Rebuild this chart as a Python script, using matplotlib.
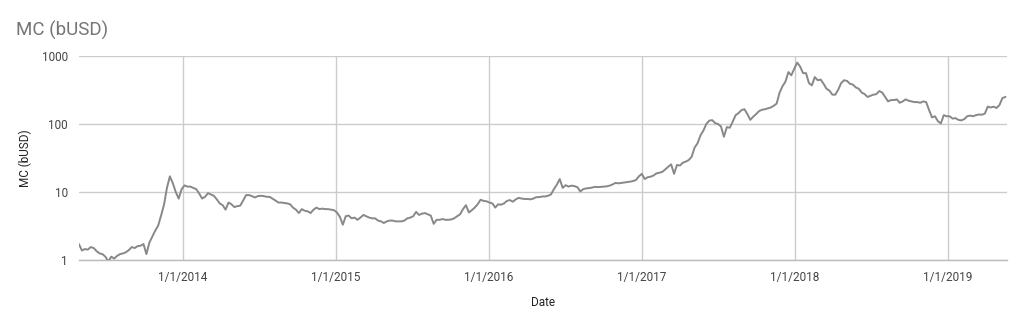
import numpy as np
import pandas as pd
import matplotlib
matplotlib.use("Agg")
import matplotlib.pyplot as plt
import matplotlib.dates as mdates
from matplotlib.ticker import FixedLocator, FixedFormatter, NullLocator

plt.rcParams['font.family'] = ['Roboto', 'DejaVu Sans']

# weekly market cap (bUSD), Sundays from 2013-04-28
mc_2013 = [1.7, 1.38, 1.45, 1.42, 1.55, 1.50, 1.35, 1.25, 1.22, 1.12,
           0.95, 1.12, 1.05, 1.15, 1.22, 1.25, 1.30, 1.40, 1.55, 1.50,
           1.60, 1.62, 1.72, 1.22, 1.80, 2.2, 2.7, 3.2, 4.5, 6.5,
           11.5, 17.0, 13.5, 10.0, 8.0, 11.0]
mc_2014 = [12.5, 12.0, 12.0, 11.5, 11.0, 9.5, 8.0, 8.5, 9.6, 9.2,
           8.8, 7.8, 6.8, 6.4, 5.5, 7.0, 6.6, 6.0, 6.2, 6.3,
           7.5, 9.0, 9.0, 8.7, 8.3, 8.7, 8.8, 8.7, 8.5, 8.5,
           8.0, 7.5, 7.0, 7.0, 6.9, 6.8, 6.6, 5.9, 5.5, 4.9,
           5.6, 5.3, 5.2, 4.9, 5.5, 5.9, 5.6, 5.7, 5.6, 5.6,
           5.5, 5.4]
mc_2015 = [5.0, 4.3, 3.3, 4.4, 4.5, 4.1, 4.2, 3.9, 4.2, 4.6,
           4.4, 4.2, 4.1, 4.1, 3.8, 3.7, 3.5, 3.7, 3.8, 3.8,
           3.7, 3.7, 3.7, 3.8, 4.1, 4.2, 4.4, 5.1, 4.6, 4.8,
           4.9, 4.7, 4.5, 3.4, 3.9, 3.9, 4.0, 3.9, 3.9, 3.95,
           4.1, 4.4, 4.7, 5.6, 6.4, 5.0, 5.4, 5.9, 6.6, 7.7,
           7.4, 7.3]
mc_2016 = [7.0, 6.8, 5.9, 6.6, 6.5, 6.8, 7.4, 7.6, 7.2, 7.8,
           8.2, 8.0, 7.9, 7.9, 7.8, 8.0, 8.4, 8.4, 8.6, 8.6,
           8.8, 9.2, 11.0, 12.8, 15.5, 11.5, 12.6, 12.0, 12.4, 12.2,
           11.8, 10.2, 11.0, 11.3, 11.4, 11.6, 11.9, 11.8, 11.9, 12.0,
           12.1, 12.4, 12.9, 13.6, 13.4, 13.6, 13.8, 14.0, 14.2, 14.5,
           15.0, 17.0]
mc_2017 = [18.5, 15.5, 16.5, 16.8, 17.5, 18.8, 19.2, 19.8, 21.5, 23.5,
           25.5, 18.5, 25.0, 24.5, 27.0, 28.0, 29.5, 33.0, 45, 52,
           68, 80, 100, 112, 114, 103, 100, 92, 65, 90,
           88, 108, 135, 145, 160, 165, 140, 115, 128, 140,
           155, 162, 165, 170, 175, 185, 200, 290, 360, 420,
           580, 520, 650]
mc_2018 = [800, 700, 560, 560, 400, 370, 490, 440, 450, 390,
           330, 310, 270, 270, 320, 400, 440, 430, 390, 380,
           345, 330, 290, 275, 250, 260, 270, 275, 305, 290,
           250, 215, 225, 225, 230, 205, 215, 230, 220, 215,
           210, 210, 205, 215, 210, 160, 125, 130, 110, 102,
           135, 130]
mc_2019 = [130, 120, 122, 115, 113, 118, 130, 133, 130, 135,
           138, 137, 142, 180, 175, 180, 172, 190, 240, 250]

mc = mc_2013 + mc_2014 + mc_2015 + mc_2016 + mc_2017 + mc_2018 + mc_2019
dates = pd.date_range('2013-04-28', periods=len(mc), freq='7D')

y_ticks = [1, 10, 100, 1000]
x_ticks = ['2014-01-01', '2015-01-01', '2016-01-01', '2017-01-01', '2018-01-01', '2019-01-01']
x_labels = ['1/1/2014', '1/1/2015', '1/1/2016', '1/1/2017', '1/1/2018', '1/1/2019']

fig = plt.figure(figsize=(10.24, 3.27), dpi=100)
ax = fig.add_axes([79/1024, 1-260/327, (1007-79)/1024, (260-56)/327])

ax.plot(dates, mc, color='#888888', linewidth=1.4, zorder=3)

ax.set_yscale('log')
ax.set_ylim(1, 1000)
ax.yaxis.set_major_locator(FixedLocator(y_ticks))
ax.yaxis.set_major_formatter(FixedFormatter([str(v) for v in y_ticks]))
ax.yaxis.set_minor_locator(NullLocator())

ax.set_xlim(pd.Timestamp('2013-04-28'), pd.Timestamp('2019-05-23'))
xt = [mdates.date2num(pd.Timestamp(d)) for d in x_ticks]
ax.set_xticks(xt)
ax.set_xticklabels(x_labels)

ax.grid(True, color='#cccccc', linewidth=1.0)
ax.set_axisbelow(True)
for s in ['top', 'right', 'left']:
    ax.spines[s].set_visible(False)
ax.spines['bottom'].set_color('#bbbbbb')
ax.spines['bottom'].set_linewidth(1.0)
ax.tick_params(axis='both', length=0, labelsize=8.5, colors='#444444')
ax.tick_params(axis='x', pad=8)
ax.tick_params(axis='y', pad=8)

fig.text(543/1024, 1-303/327, 'Date', fontsize=8.5, color='#222222', ha='center', va='center')
fig.text(25/1024, 1-158/327, 'MC (bUSD)', fontsize=8.5, color='#222222', ha='center', va='center', rotation=90)
fig.text(16/1024, 1-30/327, 'MC (bUSD)', fontsize=13.5, color='#757575', va='center', ha='left')

fig.savefig('out.png', dpi=100)
